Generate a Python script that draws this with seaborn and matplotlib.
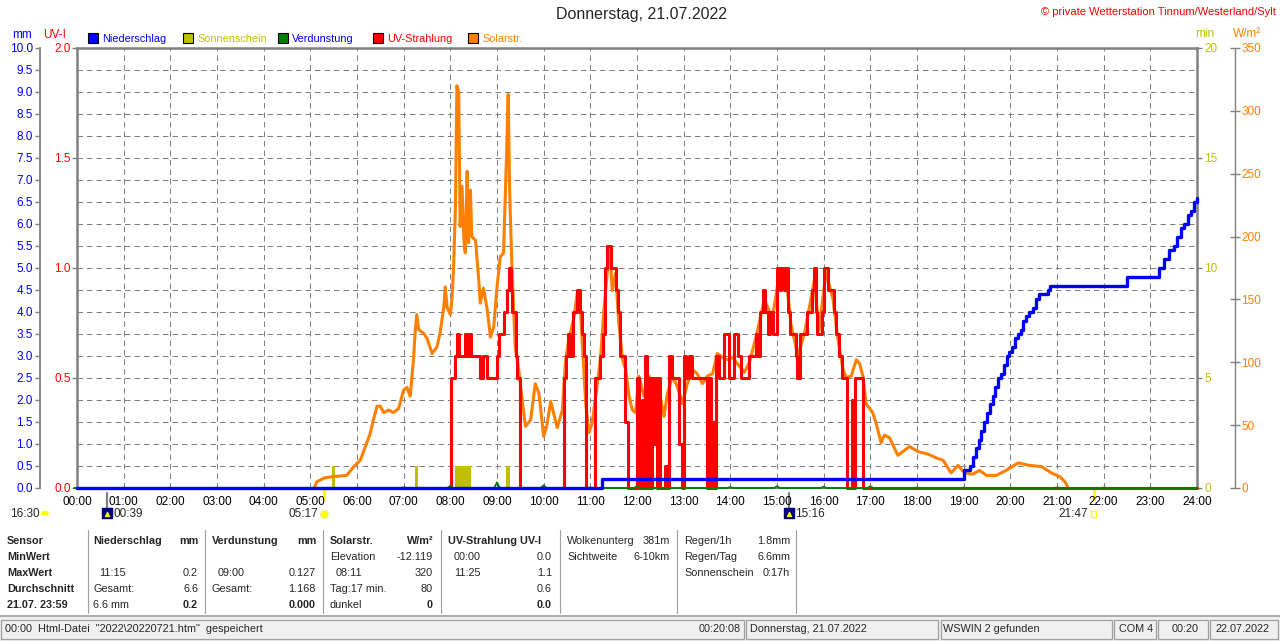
"""WSWIN day chart: Niederschlag, Sonnenschein, Verdunstung, UV, Solar."""
import matplotlib
matplotlib.use("Agg")
import matplotlib.pyplot as plt
import matplotlib.transforms as mtransforms
from matplotlib.patches import Rectangle
from matplotlib.markers import MarkerStyle
import numpy as np
import seaborn as sns

# ── data ──────────────────────────────────────────────────────────────────────

hours = list(range(25))
hour_labels = [f"{h:02d}:00" for h in hours]
mm_ticks = [i * 0.5 for i in range(21)]
uv_ticks = [0.0, 0.5, 1.0, 1.5, 2.0]
min_ticks = [0, 5, 10, 15, 20]
sol_ticks = [0, 50, 100, 150, 200, 250, 300, 350]

# Solarstrahlung W/m²
solar_t = [5.08, 5.14, 5.30, 5.46, 5.78, 5.93, 6.07, 6.18, 6.28, 6.35, 6.43, 6.50,
           6.57, 6.68, 6.78, 6.89, 7.00, 7.07, 7.14, 7.21, 7.25, 7.28, 7.32, 7.43,
           7.50, 7.61, 7.71, 7.78, 7.86, 7.89, 7.93, 8.00, 8.04, 8.07, 8.11, 8.14,
           8.18, 8.21, 8.25, 8.29, 8.32, 8.36, 8.39, 8.43, 8.46, 8.54, 8.61, 8.64,
           8.71, 8.79, 8.86, 8.93, 9.00, 9.07, 9.14, 9.18, 9.21, 9.24, 9.27, 9.32,
           9.39, 9.46, 9.54, 9.61, 9.72, 9.82, 9.90, 10.00, 10.07, 10.15, 10.29,
           10.40, 10.47, 10.54, 10.65, 10.72, 10.79, 10.90, 10.97, 11.04, 11.15,
           11.22, 11.29, 11.36, 11.41, 11.47, 11.54, 11.61, 11.69, 11.76, 11.83,
           11.90, 11.97, 12.04, 12.15, 12.26, 12.37, 12.47, 12.58, 12.65, 12.76,
           12.87, 12.97, 13.08, 13.19, 13.29, 13.40, 13.51, 13.62, 13.72, 13.83,
           13.94, 14.05, 14.15, 14.30, 14.41, 14.55, 14.73, 14.90, 15.05, 15.20,
           15.30, 15.45, 15.60, 15.80, 15.90, 16.05, 16.20, 16.30, 16.41, 16.48,
           16.59, 16.70, 16.77, 16.84, 16.91, 17.05, 17.12, 17.23, 17.30, 17.41,
           17.59, 17.84, 18.02, 18.23, 18.41, 18.56, 18.73, 18.88, 19.02, 19.19,
           19.34, 19.49, 19.70, 19.91, 20.17, 20.41, 20.67, 20.88, 21.06, 21.17,
           21.24]
solar_w = [0, 5, 8, 9, 10, 17, 22, 33, 43, 54, 65, 65,
           60, 62, 60, 63, 78, 80, 73, 102, 126, 138, 126, 123,
           119, 107, 112, 123, 144, 160, 144, 138, 152, 176, 224, 320,
           315, 208, 240, 197, 187, 252, 195, 237, 200, 197, 165, 147,
           159, 142, 120, 128, 160, 184, 187, 235, 272, 313, 237, 176,
           112, 96, 70, 49, 54, 83, 75, 41, 50, 69, 48,
           62, 102, 118, 136, 155, 140, 68, 44, 52, 83,
           104, 141, 171, 192, 157, 171, 131, 102, 94, 73,
           62, 60, 89, 73, 89, 67, 78, 57, 75, 89,
           80, 67, 83, 94, 91, 83, 89, 91, 107, 104,
           102, 104, 99, 92, 100, 120, 150, 135, 170, 165,
           130, 105, 125, 165, 125, 172, 150, 120, 95, 88,
           89, 102, 99, 89, 67, 60, 52, 36, 42, 40,
           26, 33, 29, 27, 24, 22, 12, 18, 12, 11,
           14, 10, 10, 14, 20, 18, 17, 12, 9, 5,
           0]

# UV-Strahlung UV-I (step values)
uv_t = [0.00, 8.02, 8.10, 8.14, 8.19, 8.32, 8.36, 8.40, 8.44, 8.64, 8.71, 8.79,
        9.00, 9.04, 9.16, 9.22, 9.25, 9.29, 9.33, 9.40, 9.43, 9.50,
        10.43, 10.47, 10.52, 10.56, 10.62, 10.72, 10.78, 10.82, 10.86, 10.90,
        11.11, 11.20, 11.27, 11.31, 11.36, 11.44, 11.56, 11.60, 11.64, 11.74, 11.80,
        12.01, 12.05, 12.10, 12.13, 12.18, 12.22, 12.26, 12.29, 12.33, 12.37,
        12.40, 12.42, 12.45, 12.49, 12.61, 12.64, 12.69, 12.74, 12.90, 12.97,
        13.01, 13.06, 13.12, 13.18, 13.51, 13.55, 13.58, 13.62, 13.66, 13.69,
        13.76, 13.86, 13.98, 14.08, 14.17, 14.22, 14.40, 14.54, 14.58, 14.64,
        14.70, 14.75, 14.80, 14.86, 14.92, 15.00, 15.06, 15.09, 15.14, 15.17,
        15.24, 15.28, 15.40, 15.43, 15.50, 15.65, 15.75, 15.79, 15.83, 15.86,
        15.96, 16.00, 16.10, 16.22, 16.27, 16.33, 16.40, 16.50, 16.60, 16.64,
        16.67, 16.84, 24.00]
uv_i = [0.0, 0.5, 0.6, 0.7, 0.6, 0.7, 0.6, 0.7, 0.6, 0.5, 0.6, 0.5,
        0.6, 0.7, 0.8, 0.9, 1.0, 0.9, 0.8, 0.6, 0.5, 0.0,
        0.5, 0.6, 0.7, 0.6, 0.8, 0.9, 0.8, 0.7, 0.6, 0.0,
        0.5, 0.6, 0.7, 1.0, 1.1, 1.0, 0.9, 0.8, 0.6, 0.3, 0.0,
        0.5, 0.0, 0.4, 0.0, 0.6, 0.0, 0.5, 0.0, 0.5, 0.2,
        0.5, 0.0, 0.5, 0.0, 0.1, 0.0, 0.6, 0.5, 0.2, 0.0,
        0.6, 0.5, 0.6, 0.5, 0.0, 0.5, 0.0, 0.3, 0.0, 0.6,
        0.5, 0.7, 0.5, 0.7, 0.6, 0.5, 0.6, 0.7, 0.6, 0.8,
        0.9, 0.8, 0.7, 0.8, 0.7, 1.0, 0.9, 1.0, 0.9, 1.0,
        0.8, 0.7, 0.6, 0.5, 0.7, 0.8, 0.9, 1.0, 0.8, 0.7,
        0.8, 1.0, 0.9, 0.8, 0.7, 0.6, 0.5, 0.0, 0.4, 0.0,
        0.5, 0.0, 0.0]

# Niederschlag mm (cumulative, step values)
rain_t = [0.00, 11.25, 19.00, 19.14, 19.20, 19.26, 19.32, 19.38, 19.44, 19.50,
          19.56, 19.62, 19.68, 19.74, 19.80, 19.86, 19.92, 19.98, 20.04, 20.10,
          20.16, 20.22, 20.28, 20.34, 20.40, 20.48, 20.55, 20.62, 20.80, 20.86,
          22.50, 23.18, 23.30, 23.40, 23.50, 23.58, 23.65, 23.72, 23.80, 23.88,
          23.94, 24.00]
rain_mm = [0.0, 0.2, 0.4, 0.5, 0.7, 0.9, 1.1, 1.3, 1.5, 1.7,
           1.9, 2.1, 2.3, 2.5, 2.6, 2.8, 3.0, 3.1, 3.2, 3.4,
           3.5, 3.6, 3.8, 3.9, 4.0, 4.1, 4.3, 4.4, 4.5, 4.6,
           4.8, 5.0, 5.2, 5.4, 5.5, 5.7, 5.9, 6.0, 6.2, 6.3,
           6.5, 6.6]

# Sonnenschein min
sun_start = [5.46, 7.24, 8.09, 9.20]
sun_end = [5.53, 7.31, 8.45, 9.27]
sun_min = [1, 1, 1, 1]

# Verdunstung mm per hour
evap_h = list(range(24))
evap_mm = [0.0, 0.005, 0.005, 0.005, 0.005, 0.0, 0.005, 0.01, 0.05, 0.127, 0.06, 0.01,
           0.04, 0.01, 0.02, 0.04, 0.03, 0.04, 0.01, 0.01, 0.005, 0.01, 0.01, 0.005]

# astro events
moon_events = ["00:39", "15:16"]
sun_events = ["05:17", "21:47"]


def to_hours(s):
    h, m = s.split(":")
    return int(h) + int(m) / 60


# ── style ─────────────────────────────────────────────────────────────────────

sns.set_theme(style="white")
plt.rcParams["font.family"] = ["Liberation Sans", "DejaVu Sans"]
plt.rcParams["font.size"] = 8.5

BLUE, OLIVE, GREEN, RED, ORANGE = "#0000FF", "#C0C000", "#008000", "#FF0000", "#FF8000"
GRAY = "#808080"
FS = 8.5     # axis labels
FT = 7.8     # legend, table, status bar

W, H = 1280, 641
L, R, T, B = 77, 1197, 48, 488

fig = plt.figure(figsize=(W / 100, H / 100), dpi=100, facecolor="white")
rect = [L / W, (H - B) / H, (R - L) / W, (B - T) / H]

over = fig.add_axes([0, 0, 1, 1], zorder=-1)
over.set_xlim(0, W)
over.set_ylim(H, 0)
over.axis("off")

ax_mm = fig.add_axes(rect)
ax_min = ax_mm.twinx()
ax_sol = ax_mm.twinx()
ax_uv = ax_mm.twinx()
ax_rain = ax_mm.twinx()

for a in (ax_min, ax_sol, ax_uv, ax_rain):
    for sp in a.spines.values():
        sp.set_visible(False)
    a.patch.set_visible(False)

# main mm axis + grid
ax_mm.set_facecolor("white")
ax_mm.set_xlim(0, 24)
ax_mm.set_ylim(0, 10)
ax_mm.set_xticks(hours)
ax_mm.set_xticklabels(hour_labels)
ax_mm.set_yticks(mm_ticks)
ax_mm.set_yticklabels([f"{v:.1f}" for v in mm_ticks])
ax_mm.grid(True, color=GRAY, linestyle=(0, (5.5, 4)), linewidth=0.72)
ax_mm.set_axisbelow(True)
ax_mm.spines["right"].set_visible(False)
ax_mm.spines["top"].set_color(GRAY)
ax_mm.spines["top"].set_linewidth(1.8)
ax_mm.spines["bottom"].set_color(GRAY)
ax_mm.spines["bottom"].set_linewidth(0.8)
ax_mm.spines["left"].set_visible(True)
ax_mm.spines["left"].set_position(("axes", -0.033))
ax_mm.spines["left"].set_color(GRAY)
ax_mm.spines["left"].set_linewidth(1.3)
ax_mm.tick_params(axis="y", left=True, length=3.6, width=1.0, color=GRAY,
                  labelcolor=BLUE, labelsize=FS, pad=1.5)
ax_mm.tick_params(axis="x", bottom=True, length=0, labelcolor="black",
                  labelsize=FS, pad=6)

# UV axis on the frame
ax_uv.set_ylim(0, 2)
ax_uv.yaxis.tick_left()
ax_uv.set_yticks(uv_ticks)
ax_uv.set_yticklabels([f"{v:.1f}" for v in uv_ticks])
ax_uv.spines["left"].set_visible(True)
ax_uv.spines["left"].set_color(GRAY)
ax_uv.spines["left"].set_linewidth(1.8)
ax_uv.tick_params(axis="y", left=True, right=False, labelleft=True, labelright=False,
                  length=3.6, width=1.0, color=GRAY, labelcolor=RED, labelsize=FS, pad=1)

# Sonnenschein minutes on right frame
ax_min.set_ylim(0, 20)
ax_min.set_yticks(min_ticks)
ax_min.spines["right"].set_visible(True)
ax_min.spines["right"].set_color(GRAY)
ax_min.spines["right"].set_linewidth(1.8)
ax_min.tick_params(axis="y", right=True, length=3.6, width=1.0, color=GRAY,
                   labelcolor=OLIVE, labelsize=FS, pad=1.5)

# Solar W/m² on outer right
ax_sol.set_ylim(0, 350)
ax_sol.set_yticks(sol_ticks)
ax_sol.spines["right"].set_visible(True)
ax_sol.spines["right"].set_position(("axes", 1.034))
ax_sol.spines["right"].set_color(GRAY)
ax_sol.spines["right"].set_linewidth(1.0)
ax_sol.tick_params(axis="y", right=True, direction="inout", length=7.2, width=1.0,
                   color=GRAY, labelcolor=ORANGE, labelsize=FS, pad=1)

ax_rain.set_ylim(0, 10)
ax_rain.set_yticks([])

# ── series ────────────────────────────────────────────────────────────────────

ax_min.bar(sun_start, sun_min, width=np.subtract(sun_end, sun_start), align="edge",
           color=OLIVE, linewidth=0)

sns.lineplot(x=solar_t, y=solar_w, ax=ax_sol, color=ORANGE, linewidth=2.2,
             estimator=None, sort=False, legend=False, clip_on=False)
sns.lineplot(x=uv_t, y=uv_i, ax=ax_uv, color=RED, linewidth=2.2, drawstyle="steps-post",
             estimator=None, sort=False, legend=False, clip_on=False)

# evaporation as narrow spikes at each hour
ev_x, ev_y = [], []
for h, v in zip(evap_h, evap_mm):
    ev_x += [h - 0.06, h, h + 0.06]
    ev_y += [0, v, 0]
ev_x.append(24)
ev_y.append(0)
sns.lineplot(x=ev_x, y=ev_y, ax=ax_rain, color=GREEN, linewidth=1.4,
             estimator=None, sort=False, legend=False, clip_on=False)
sns.lineplot(x=rain_t, y=rain_mm, ax=ax_rain, color=BLUE, linewidth=2.4,
             drawstyle="steps-post", estimator=None, sort=False, legend=False,
             clip_on=False)

for a in (ax_mm, ax_min, ax_sol, ax_uv, ax_rain):
    a.set_xlim(0, 24)
    a.set_xlabel("")
    a.set_ylabel("")

# ── header texts and legend ───────────────────────────────────────────────────

over.text(641, 15, "Donnerstag, 21.07.2022", ha="center", va="center", fontsize=11.5)
over.text(1276, 12, "© private Wetterstation Tinnum/Westerland/Sylt", ha="right",
          va="center", fontsize=8, color=RED)
over.text(22, 35, "mm", ha="center", va="center", fontsize=FS, color=BLUE)
over.text(55, 35, "UV-I", ha="center", va="center", fontsize=FS, color=RED)
over.text(1205, 34, "min", ha="center", va="center", fontsize=FS, color=OLIVE)
over.text(1247, 34, "W/m²", ha="center", va="center", fontsize=FS, color=ORANGE)

legend = [("Niederschlag", BLUE, BLUE, 88), ("Sonnenschein", OLIVE, OLIVE, 183),
          ("Verdunstung", GREEN, BLUE, 278), ("UV-Strahlung", RED, RED, 373),
          ("Solarstr.", ORANGE, ORANGE, 468)]
for name, box, txt, x in legend:
    over.add_patch(Rectangle((x, 33), 10, 10, facecolor=box, edgecolor="black", lw=0.8))
    over.text(x + 14, 38.5, name, ha="left", va="center", fontsize=FT, color=txt)

# ── astro events below the time axis ──────────────────────────────────────────

blend = mtransforms.blended_transform_factory(ax_mm.transData, over.transData)


def shifted(dx):
    return mtransforms.offset_copy(blend, fig=fig, x=dx, y=0, units="dots")


for s in moon_events:
    t = to_hours(s)
    over.plot([t, t], [493, 509], transform=blend, color=GRAY, lw=1.6, clip_on=False)
    over.scatter([t], [513], transform=blend, marker="s", s=45, color="#000080",
                 clip_on=False, zorder=5)
    over.scatter([t], [514], transform=blend, marker="^", s=8, color="#FFFF00",
                 clip_on=False, zorder=6)
    over.text(t, 514, s, transform=shifted(6), ha="left", va="center", fontsize=FS)

for i, s in enumerate(sun_events):
    t = to_hours(s)
    over.plot([t, t], [486, 499], transform=blend, color="#FFFF00", lw=2.2, clip_on=False)
    if i == 0:
        over.scatter([t], [514], transform=blend, marker="o", s=30, color="#FFFF00",
                     edgecolors="#F0F080", clip_on=False)
    else:
        over.scatter([t], [514], transform=blend, marker="s", s=14, facecolors="none",
                     edgecolors="#FFFF00", linewidths=1.0, clip_on=False)
    over.text(t, 514, s, transform=shifted(-5), ha="right", va="center", fontsize=FS)

over.text(10, 514, "16:30", ha="left", va="center", fontsize=FS)
over.scatter([45], [515], marker=MarkerStyle("o", fillstyle="top"), s=40,
             color="#FFFF00", edgecolors="none")

# ── summary table ─────────────────────────────────────────────────────────────

row_y = [541, 557, 573, 589, 605]
sensor_rows = ["Sensor", "MinWert", "MaxWert", "Durchschnitt", "21.07. 23:59"]
for y, s in zip(row_y, sensor_rows):
    over.text(7, y, s, ha="left", va="center", fontsize=FT, fontweight="bold")

# (left x, right x, rows of (left text, right text, bold))
columns = [
    (93, 198, [("Niederschlag", "mm", True), ("", "", False), (" 11:15", "0.2", False),
               ("Gesamt:", "6.6", False), ("6.6 mm", "0.2", "val")]),
    (212, 316, [("Verdunstung", "mm", True), ("", "", False), (" 09:00", "0.127", False),
                ("Gesamt:", "1.168", False), ("", "0.000", "val")]),
    (330, 433, [("Solarstr.", "W/m²", True), ("Elevation", "-12.119", False),
                (" 08:11", "320", False), ("Tag:17 min.", "80", False),
                ("dunkel", "0", "val")]),
    (448, 552, [("UV-Strahlung UV-I", "", True), (" 00:00", "0.0", False),
                (" 11:25", "1.1", False), ("", "0.6", False), ("", "0.0", "val")]),
    (567, 670, [("Wolkenunterg", "381m", False), ("Sichtweite", "6-10km", False)]),
    (684, 790, [("Regen/1h", "1.8mm", False), ("Regen/Tag", "6.6mm", False),
                ("Sonnenschein", "0:17h", False)]),
]
for xl, xr, rows in columns:
    for y, (lt, rt, bold) in zip(row_y, rows):
        over.text(xl + (6 if lt.startswith(" ") else 0), y, lt.strip(), ha="left",
                  va="center", fontsize=FT, fontweight="bold" if bold is True else "normal")
        over.text(xr, y, rt, ha="right", va="center", fontsize=FT,
                  fontweight="bold" if bold else "normal")

for x in [88, 205, 323, 441, 560, 677, 796]:
    over.plot([x, x], [530, 613], color="#A0A0A0", lw=0.8)

# ── status bar ────────────────────────────────────────────────────────────────

over.add_patch(Rectangle((0, 615), W, H - 615, facecolor="#F0F0F0", edgecolor="none"))
over.plot([0, W], [615.5, 615.5], color="#A0A0A0", lw=1.2)
panels = [(1, 744), (746, 938), (941, 1112), (1114, 1156), (1158, 1208), (1210, 1278)]
for x0, x1 in panels:
    over.add_patch(Rectangle((x0, 620), x1 - x0, 19, facecolor="#F0F0F0",
                             edgecolor="#A0A0A0", lw=0.9))
status = [(5, "00:00  Html-Datei  \"2022\\20220721.htm\"  gespeichert", "left"),
          (741, "00:20:08", "right"), (750, "Donnerstag, 21.07.2022", "left"),
          (943, "WSWIN 2 gefunden", "left"), (1119, "COM 4", "left"),
          (1172, "00:20", "left"), (1216, "22.07.2022", "left")]
for x, s, ha in status:
    over.text(x, 629.5, s, ha=ha, va="center", fontsize=FT)

fig.savefig("out.png", dpi=100, facecolor="white")
